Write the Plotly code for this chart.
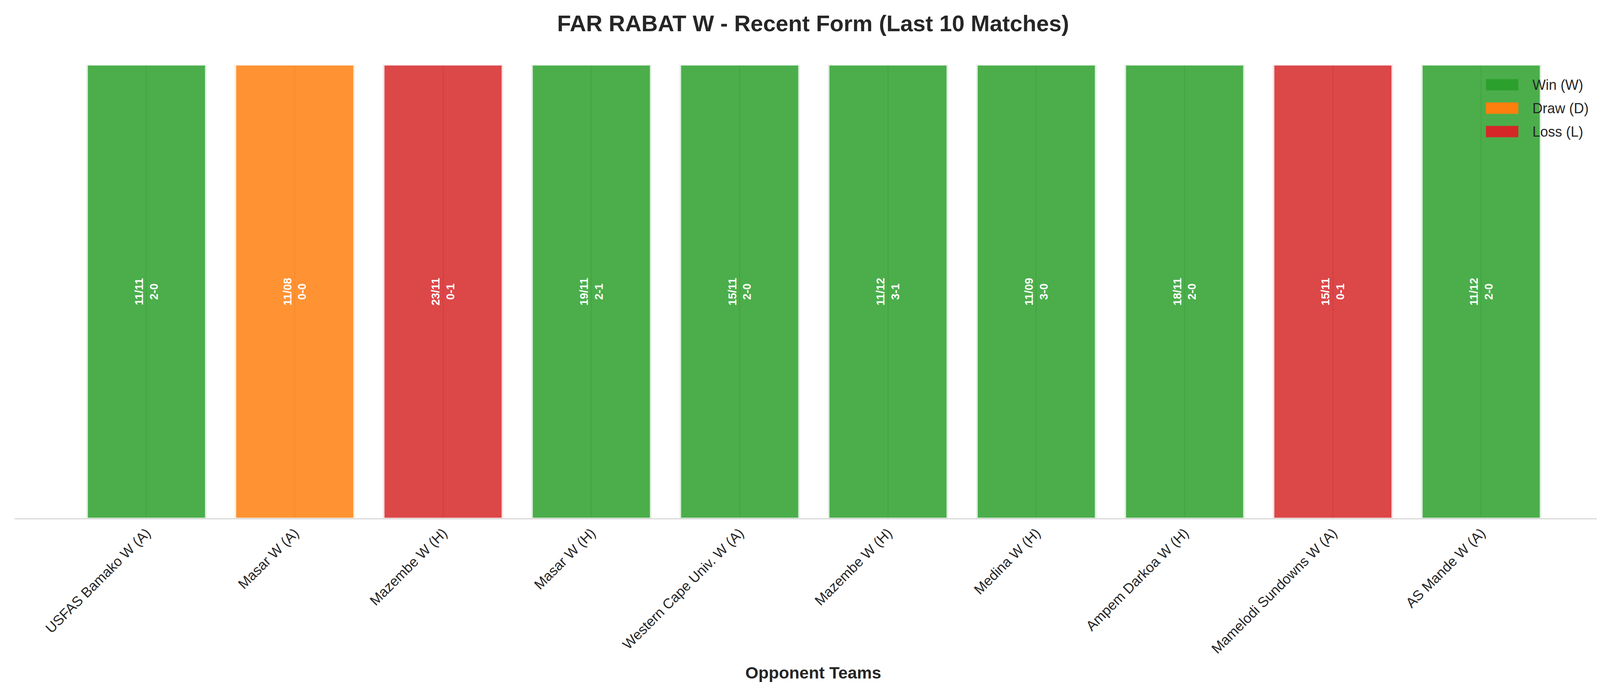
import plotly.graph_objects as go

# match data (shown left to right)
teams = ["USFAS Bamako W (A)", "Masar W (A)", "Mazembe W (H)", "Masar W (H)",
         "Western Cape Univ. W (A)", "Mazembe W (H)", "Medina W (H)",
         "Ampem Darkoa W (H)", "Mamelodi Sundowns W (A)", "AS Mande W (A)"]
dates = ["11/11", "11/08", "23/11", "19/11", "15/11", "11/12", "11/09", "18/11", "15/11", "11/12"]
scores = ["2-0", "0-0", "0-1", "2-1", "2-0", "3-1", "3-0", "2-0", "0-1", "2-0"]
results = ["W", "D", "L", "W", "W", "W", "W", "W", "L", "W"]

legend_labels = ["Win (W)", "Draw (D)", "Loss (L)"]
legend_keys = ["W", "D", "L"]

colors = {"W": (44, 160, 44), "D": (255, 127, 14), "L": (214, 39, 40)}


def rgba(c, a):
    return "rgba(%d,%d,%d,%.2f)" % (c[0], c[1], c[2], a)


def tint(c, f=0.15):
    return "rgb(%d,%d,%d)" % tuple(int(255 - (255 - v) * f) for v in c)


W, H = 4146, 1770
ml, mr, mt, mb = 29, 28, 158, 450
pw, ph = W - ml - mr, H - mt - mb
font = "Liberation Sans, Arial, sans-serif"


def px(xp):
    return (xp - ml) / pw


def py(yp):
    return (H - mb - yp) / ph


x = list(range(len(teams)))
fig = go.Figure()
fig.add_trace(go.Bar(
    x=x, y=[1] * len(teams), width=0.8,
    marker=dict(color=[rgba(colors[r], 0.85) for r in results],
                line=dict(color=[tint(colors[r]) for r in results], width=4)),
    text=["<b>%s<br>%s</b>" % (d, s) for d, s in zip(dates, scores)],
    textposition="inside", insidetextanchor="middle", textangle=-90,
    textfont=dict(color="white", size=29, family=font),
    showlegend=False, hoverinfo="skip",
))

# legend drawn by hand so the patches keep their matplotlib size
for i, (lab, key) in enumerate(zip(legend_labels, legend_keys)):
    yc = 209 + i * 60
    fig.add_shape(type="rect", xref="paper", yref="paper",
                  x0=px(3796), x1=px(3879),
                  y0=py(yc + 14.5), y1=py(yc - 14.5),
                  fillcolor=rgba(colors[key], 1), line=dict(width=0))
    fig.add_annotation(xref="paper", yref="paper",
                       x=px(3913), y=py(yc),
                       text=lab, showarrow=False, xanchor="left", yanchor="middle",
                       font=dict(size=36, color="#262626", family=font))

# x axis title
fig.add_annotation(xref="paper", yref="paper", x=0.5, y=py(1715),
                   text="<b>Opponent Teams</b>", showarrow=False,
                   xanchor="center", yanchor="middle",
                   font=dict(size=43, color="#262626", family=font))

fig.update_layout(
    width=W, height=H,
    margin=dict(l=ml, r=mr, t=mt, b=mb),
    paper_bgcolor="white", plot_bgcolor="white",
    title=dict(text="<b>FAR RABAT W - Recent Form (Last 10 Matches)</b>",
               x=0.5, xanchor="center", xref="paper",
               y=1 - 52 / H, yref="container", yanchor="middle",
               font=dict(size=58, color="#262626", family=font)),
    font=dict(family=font, color="#262626"),
    xaxis=dict(range=[-0.89, 9.88], tickvals=x, ticktext=teams, tickangle=-45,
               tickfont=dict(size=36, color="#262626", family=font),
               showgrid=True, gridcolor="#cccccc", gridwidth=3,
               showline=True, linecolor="#cccccc", linewidth=2,
               ticks="", zeroline=False),
    yaxis=dict(range=[0, 1], visible=False, showgrid=False, zeroline=False),
)

fig.write_html("out.html")
